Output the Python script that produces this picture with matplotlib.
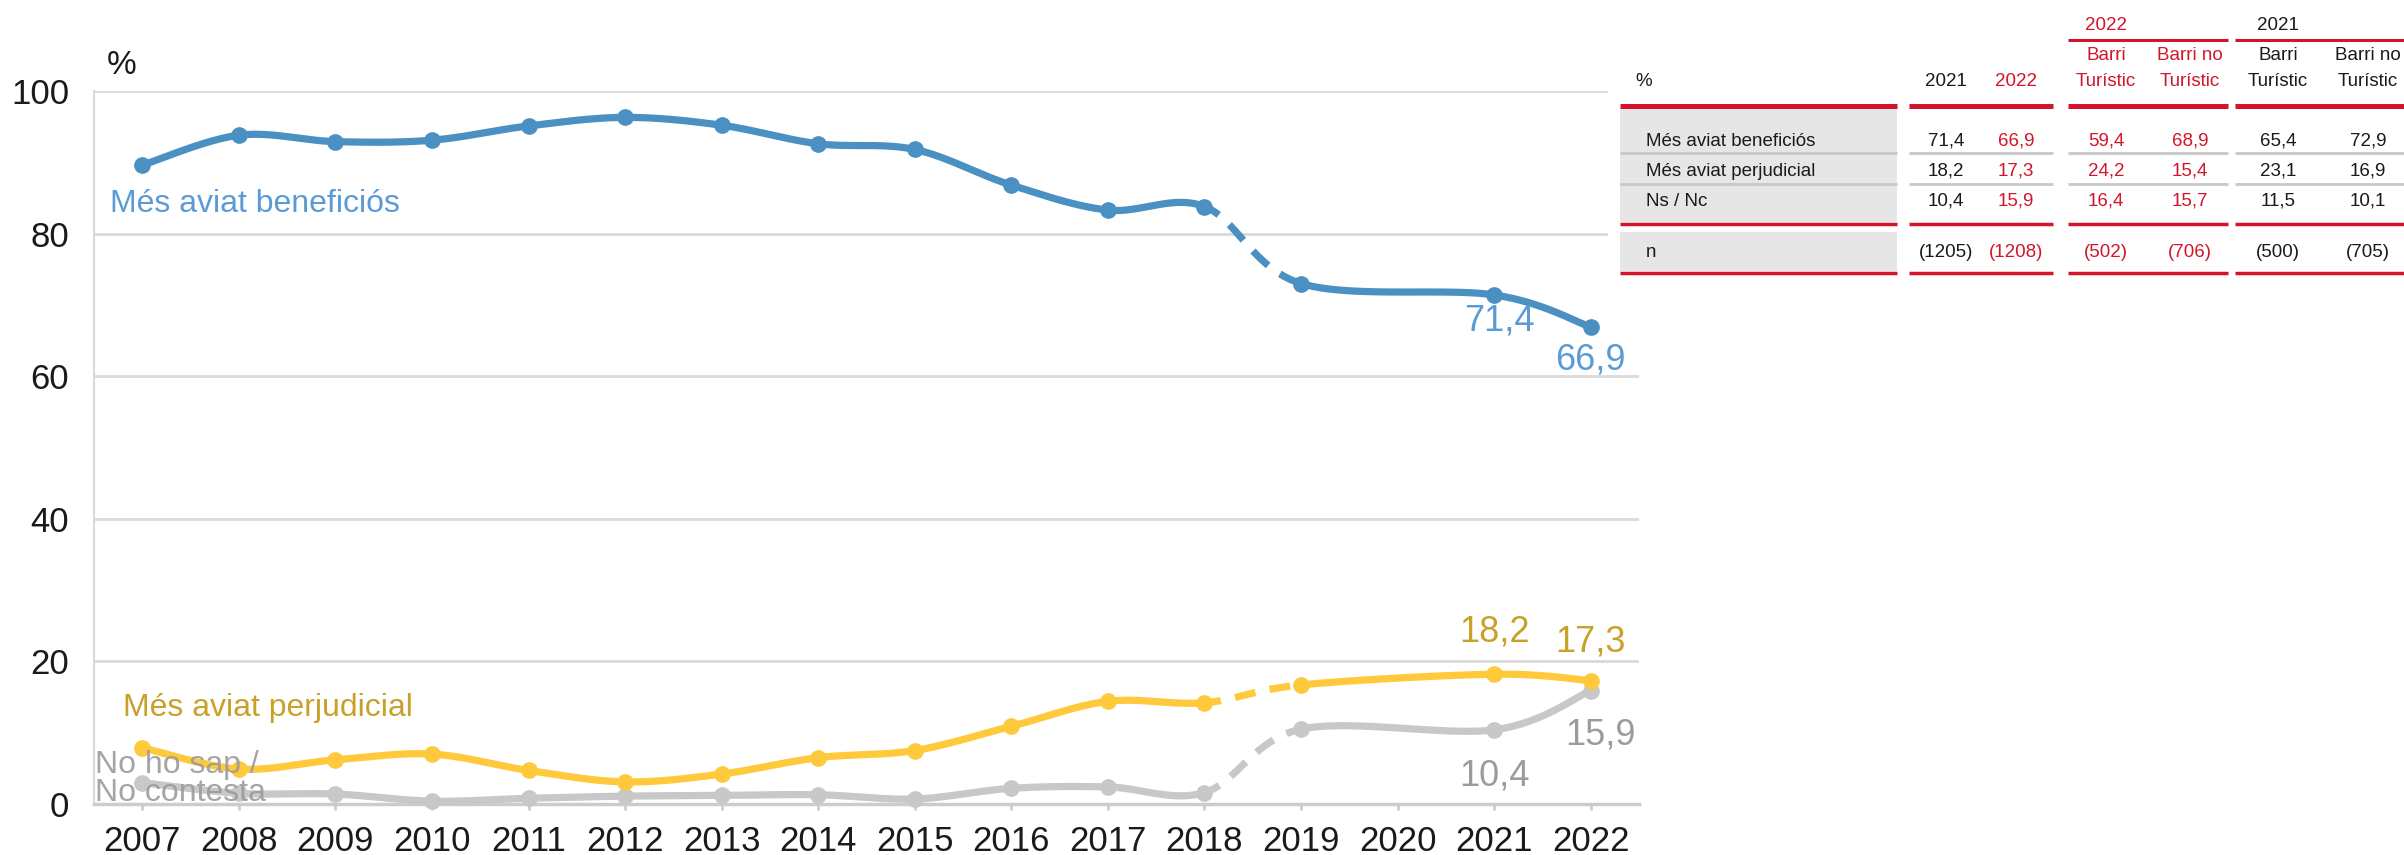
import matplotlib
matplotlib.use("Agg")
import matplotlib.pyplot as plt
import numpy as np
from matplotlib.lines import Line2D
from matplotlib.patches import Rectangle

plt.rcParams["font.family"] = ["Liberation Sans", "DejaVu Sans"]

# ---- chart data ----
years = [2007, 2008, 2009, 2010, 2011, 2012, 2013, 2014, 2015, 2016, 2017, 2018, 2019, 2021, 2022]
year_ticks = list(range(2007, 2023))
beneficios = [89.6, 93.8, 92.9, 93.1, 95.1, 96.3, 95.2, 92.6, 91.8, 86.8, 83.3, 83.8, 73.0, 71.4, 66.9]
perjudicial = [7.9, 4.9, 6.2, 7.0, 4.7, 3.1, 4.2, 6.5, 7.5, 10.9, 14.4, 14.2, 16.7, 18.2, 17.3]
nsnc = [3.0, 1.5, 1.4, 0.4, 0.8, 1.1, 1.2, 1.3, 0.7, 2.2, 2.4, 1.6, 10.5, 10.4, 15.9]

# ---- table data ----
tbl_rows = ["Més aviat beneficiós", "Més aviat perjudicial", "Ns / Nc"]
tot_2021 = [71.4, 18.2, 10.4]
tot_2022 = [66.9, 17.3, 15.9]
tur_2022 = [59.4, 24.2, 16.4]
notur_2022 = [68.9, 15.4, 15.7]
tur_2021 = [65.4, 23.1, 11.5]
notur_2021 = [72.9, 16.9, 10.1]
n_values = [1205, 1208, 502, 706, 500, 705]

BLUE = "#4a90c2"
BLUE_TXT = "#5b9bd5"
YELLOW = "#ffc93c"
GOLD_TXT = "#c9a02a"
GREY = "#c8c8c8"
GREY_TXT = "#9b9b9b"
RED = "#d4142a"

W, H = 2404, 855


def fx(x):
    return x / W


def fy(y):
    return 1 - y / H


def smooth_segments(xs, ys, n=25):
    """Catmull-Rom style bezier pieces between consecutive points."""
    pts = np.column_stack([xs, ys]).astype(float)
    P = np.vstack([pts[0], pts, pts[-1]])
    t = np.linspace(0, 1, n)[:, None]
    segs = []
    for i in range(len(pts) - 1):
        p0, p1, p2, p3 = P[i], P[i + 1], P[i + 2], P[i + 3]
        c1 = p1 + (p2 - p0) / 6
        c2 = p2 - (p3 - p1) / 6
        segs.append((1 - t) ** 3 * p1 + 3 * (1 - t) ** 2 * t * c1
                    + 3 * (1 - t) * t ** 2 * c2 + t ** 3 * p2)
    return segs


fig = plt.figure(figsize=(W / 100, H / 100), dpi=100)
ax = fig.add_axes([fx(94), fy(804), (1639 - 94) / W, (804 - 91) / H])
ax.set_xlim(2006.5, 2022.5)
ax.set_ylim(0, 100)

gap = years.index(2018)
for vals, col in [(nsnc, GREY), (perjudicial, YELLOW), (beneficios, BLUE)]:
    segs = smooth_segments(years, vals)
    solid_a = np.vstack(segs[:gap])
    solid_b = np.vstack(segs[gap + 1:])
    for s in (solid_a, solid_b):
        ax.plot(s[:, 0], s[:, 1], color=col, lw=5.2, solid_capstyle="round", clip_on=False, zorder=3)
    d = segs[gap]
    ax.plot(d[:, 0], d[:, 1], color=col, lw=5.2, ls=(0.6, (2.9, 2.0)), clip_on=False, zorder=3)
    ax.plot(years, vals, "o", color=col, ms=11, clip_on=False, zorder=4)

ax.set_yticks(range(0, 101, 20))
ax.grid(axis="y", color="#d9d9d9", lw=2)
ax.set_axisbelow(True)
ax.set_xticks(year_ticks)
ax.tick_params(axis="y", length=0, pad=18, labelsize=25, colors="#1a1a1a")
ax.tick_params(axis="x", length=4, width=2, color="#cccccc", pad=11, labelsize=25, labelcolor="#1a1a1a")
for s in ("top", "right"):
    ax.spines[s].set_visible(False)
ax.spines["left"].set_color("#d9d9d9")
ax.spines["left"].set_linewidth(1.5)
ax.spines["bottom"].set_color("#cccccc")
ax.spines["bottom"].set_linewidth(2.5)

fig.text(fx(122), fy(66), "%", fontsize=24, ha="center", va="center", color="#1a1a1a")

# series labels
ax.text(2006.67, 84.2, "Més aviat beneficiós", color=BLUE_TXT, fontsize=23, ha="left", va="center")
ax.text(2006.80, 13.4, "Més aviat perjudicial", color=GOLD_TXT, fontsize=23, ha="left", va="center")
ax.text(2006.51, 3.5, "No ho sap /\nNo contesta", color=GREY_TXT, fontsize=23, ha="left", va="center",
        linespacing=0.92, zorder=6, alpha=0.9)

# end value labels
def fmt(v):
    return f"{v:.1f}".replace(".", ",")

ax.text(2021.05, 67.8, fmt(beneficios[-2]), color=BLUE_TXT, fontsize=26, ha="center", va="center")
ax.text(2022.0, 62.3, fmt(beneficios[-1]), color=BLUE_TXT, fontsize=26, ha="center", va="center")
ax.text(2021.0, 24.1, fmt(perjudicial[-2]), color=GOLD_TXT, fontsize=26, ha="center", va="center")
ax.text(2022.0, 22.7, fmt(perjudicial[-1]), color=GOLD_TXT, fontsize=26, ha="center", va="center")
ax.text(2021.0, 3.9, fmt(nsnc[-2]), color=GREY_TXT, fontsize=26, ha="center", va="center")
ax.text(2022.1, 9.7, fmt(nsnc[-1]), color=GREY_TXT, fontsize=26, ha="center", va="center")

# ---- table on the right ----
def hline(x0, x1, y, color, lw):
    fig.add_artist(Line2D([fx(x0), fx(x1)], [fy(y), fy(y)], transform=fig.transFigure,
                          color=color, lw=lw, solid_capstyle="butt", zorder=12))


def box(x0, x1, y0, y1, color):
    fig.add_artist(Rectangle((fx(x0), fy(y1)), (x1 - x0) / W, (y1 - y0) / H,
                             transform=fig.transFigure, color=color, lw=0, zorder=11))


def txt(x, y, s, color="#1a1a1a", ha="center", size=13.5):
    fig.text(fx(x), fy(y), s, color=color, ha=ha, va="center", fontsize=size, zorder=13)


# white background of the table image
box(1608, 2404, 0, 285, "white")

groups = [(1620, 1897), (1909, 2053), (2068, 2228), (2235, 2404)]
box(1620, 1897, 108, 222, "#e6e6e6")
box(1620, 1897, 232, 271, "#e6e6e6")
for x0, x1 in groups:
    hline(x0, x1, 106, RED, 3.6)
    hline(x0, x1, 224, RED, 2.5)
    hline(x0, x1, 273, RED, 2.5)
    for y in (153, 184):
        hline(x0, x1, y, "#c8c8c8", 2.0)
hline(2068, 2228, 40, RED, 2.2)
hline(2235, 2404, 40, RED, 2.2)

col_x = [1946, 2016, 2106, 2190, 2278, 2368]
col_red = [False, True, True, True, False, False]
txt(2106, 26, "2022", color=RED)
txt(2278, 26, "2021")
for cx, red in zip(col_x[2:], col_red[2:]):
    c = RED if red else "#1a1a1a"
    txt(cx, 55, "Barri" if cx in (2106, 2278) else "Barri no", color=c)
    txt(cx, 82, "Turístic", color=c)
txt(1635, 82, "%", ha="left")
txt(col_x[0], 82, "2021")
txt(col_x[1], 82, "2022", color=RED)

row_y = [141, 171, 201]
cols = [tot_2021, tot_2022, tur_2022, notur_2022, tur_2021, notur_2021]
for i, label in enumerate(tbl_rows):
    txt(1646, row_y[i], label, ha="left")
    for cx, red, vals in zip(col_x, col_red, cols):
        txt(cx, row_y[i], fmt(vals[i]), color=RED if red else "#1a1a1a")
txt(1646, 252, "n", ha="left")
for cx, red, nv in zip(col_x, col_red, n_values):
    txt(cx, 252, f"({nv})", color=RED if red else "#1a1a1a")

fig.savefig("out.png", dpi=100, facecolor="white")
